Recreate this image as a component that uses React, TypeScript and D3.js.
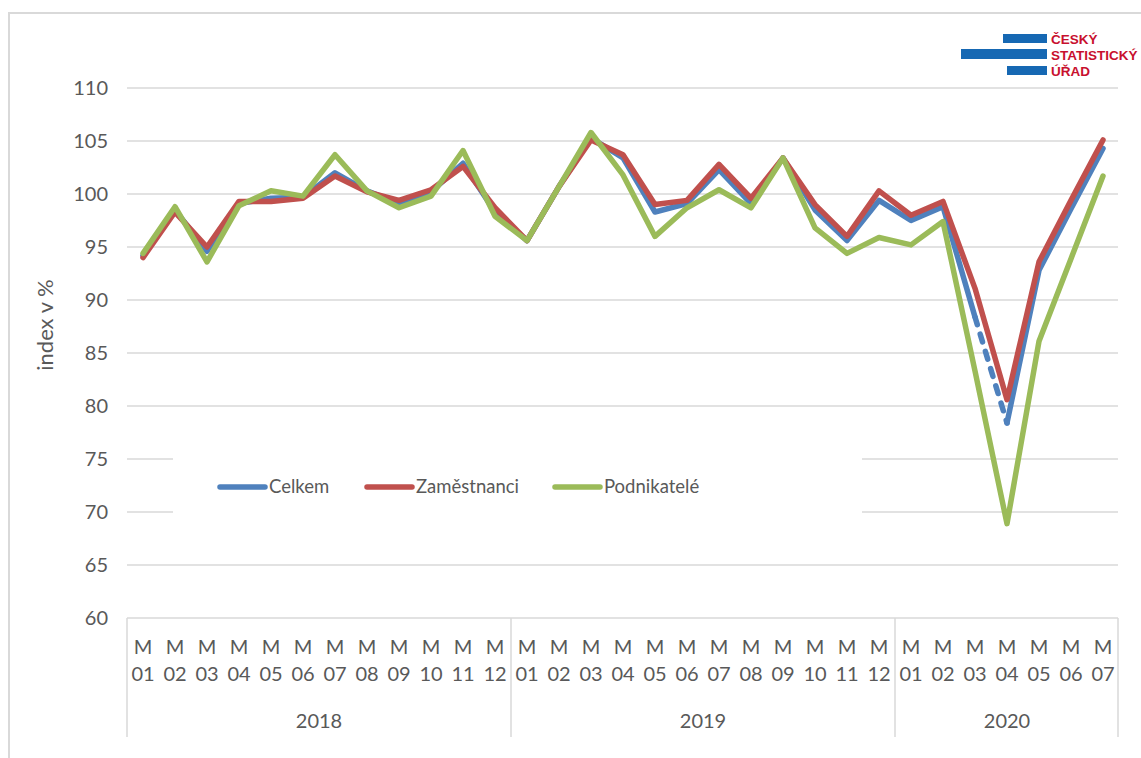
import React from 'react';
import * as d3 from 'd3';

// categories: years with months
const years = ['2018', '2019', '2020'];
const monthsPerYear = [12, 12, 7];
const categories: { year: string; month: string; key: string }[] = [];
years.forEach((y, yi) => {
  for (let m = 1; m <= monthsPerYear[yi]; m++) {
    const mm = String(m).padStart(2, '0');
    categories.push({ year: y, month: mm, key: `${y}-${mm}` });
  }
});

const yTicks = [60, 65, 70, 75, 80, 85, 90, 95, 100, 105, 110];

const celkem = [94.2, 98.5, 94.6, 99.1, 99.6, 99.7, 102.0, 100.3, 99.1, 100.2, 102.9, 98.3,
  95.6, 100.7, 105.3, 103.4, 98.3, 99.1, 102.3, 99.1, 103.4, 98.5, 95.6, 99.4,
  97.5, 98.8, 88.4, 78.4, 92.8, 98.6, 104.3];
const zamestnanci = [94.0, 98.3, 95.0, 99.3, 99.3, 99.6, 101.7, 100.2, 99.4, 100.4, 102.6, 98.7,
  95.6, 100.7, 105.1, 103.7, 99.0, 99.4, 102.8, 99.6, 103.4, 99.0, 96.0, 100.3,
  98.0, 99.3, 91.1, 80.6, 93.6, 99.4, 105.1];
const podnikatele = [94.4, 98.8, 93.6, 98.9, 100.3, 99.8, 103.7, 100.3, 98.7, 99.8, 104.1, 97.9,
  95.6, 100.7, 105.8, 101.8, 96.0, 98.7, 100.4, 98.7, 103.4, 96.8, 94.4, 95.9,
  95.2, 97.4, 83.3, 68.9, 86.1, 93.9, 101.7];

// Celkem segment 2020 M03 -> M04 is dashed (preliminary)
const celkemDashFrom = 26;

const series = [
  { name: 'Celkem', values: celkem, color: '#4f81bd' },
  { name: 'Zaměstnanci', values: zamestnanci, color: '#c0504d' },
  { name: 'Podnikatelé', values: podnikatele, color: '#9bbb59' },
];

const W = 1141;
const H = 758;
const font = 'Lato, "Open Sans", sans-serif';
const textColor = '#595959';
const gridColor = '#d9d9d9';

export default function App() {
  const margin = { left: 127, top: 88, bottom: 618 };
  const bandW = 32;
  const x = d3.scaleBand<string>()
    .domain(categories.map(c => c.key))
    .range([margin.left, margin.left + bandW * categories.length])
    .padding(0);
  const y = d3.scaleLinear().domain([60, 110]).range([margin.bottom, margin.top]);
  const xc = (i: number) => x(categories[i].key)! + x.bandwidth() / 2;

  const line = d3.line<[number, number]>()
    .x(d => xc(d[0]))
    .y(d => y(d[1]));

  const right = x.range()[1];

  // legend box blocks the gridlines behind it
  const legendBox = { x0: 173, x1: 862, y0: 452, y1: 520 };
  const legendItems = [
    { s: series[0], lx: 220 },
    { s: series[1], lx: 367 },
    { s: series[2], lx: 555 },
  ];

  // year group boundaries
  let acc = 0;
  const yearGroups = years.map((yr, i) => {
    const start = acc;
    acc += monthsPerYear[i];
    return { yr, start, end: acc - 1 };
  });

  const pts = (vals: number[], from = 0, to = vals.length - 1) =>
    vals.slice(from, to + 1).map((v, k) => [from + k, v] as [number, number]);

  return (
    <svg width={W} height={H} style={{ position: 'absolute', left: 0, top: 0, background: '#fff' }}
      fontFamily={font}>
      <rect x={9} y={13} width={W + 50} height={H + 50} fill="#fff" stroke={gridColor} strokeWidth={2} />

      {/* gridlines */}
      {yTicks.filter(t => t > 60).map(t => (
        <line key={t} x1={margin.left} x2={right - 1} y1={y(t)} y2={y(t)} stroke={gridColor} strokeWidth={1.5} />
      ))}
      <rect x={legendBox.x0} y={legendBox.y0} width={legendBox.x1 - legendBox.x0}
        height={legendBox.y1 - legendBox.y0} fill="#fff" />

      {/* y tick labels */}
      {yTicks.map(t => (
        <text key={t} x={108} y={y(t)} dy="0.35em" textAnchor="end" fontSize={20} fill={textColor}>{t}</text>
      ))}
      <text transform={`translate(53,${325}) rotate(-90)`} textAnchor="middle" fontSize={22} fill={textColor}>index v %</text>

      {/* category axis */}
      <line x1={margin.left} x2={right - 1} y1={margin.bottom} y2={margin.bottom} stroke={gridColor} strokeWidth={1.5} />
      {[0, ...yearGroups.map(g => g.end + 1)].map((i, k) => {
        const xx = i < categories.length ? x(categories[i].key)! : right - 1;
        return <line key={k} x1={xx} x2={xx} y1={margin.bottom} y2={737} stroke={gridColor} strokeWidth={1.5} />;
      })}
      {categories.map((c, i) => (
        <g key={c.key} fontSize={20} fill={textColor} textAnchor="middle">
          <text x={xc(i)} y={647} dy="0.35em">M</text>
          <text x={xc(i)} y={674} dy="0.35em">{c.month}</text>
        </g>
      ))}
      {yearGroups.map(g => (
        <text key={g.yr} x={(xc(g.start) + xc(g.end)) / 2} y={721} dy="0.35em" textAnchor="middle"
          fontSize={20} fill={textColor}>{g.yr}</text>
      ))}

      {/* series */}
      {series.map((s, si) => {
        const common = { fill: 'none', stroke: s.color, strokeWidth: 5.5, strokeLinejoin: 'round' as const, strokeLinecap: 'round' as const };
        if (si === 0) {
          return (
            <g key={s.name}>
              <path d={line(pts(s.values, 0, celkemDashFrom))!} {...common} />
              <path d={line(pts(s.values, celkemDashFrom, celkemDashFrom + 1))!} {...common} strokeDasharray="8,10" />
              <path d={line(pts(s.values, celkemDashFrom + 1))!} {...common} />
            </g>
          );
        }
        return <path key={s.name} d={line(pts(s.values))!} {...common} />;
      })}

      {/* legend */}
      {legendItems.map(({ s, lx }) => (
        <g key={s.name}>
          <line x1={lx} x2={lx + 45} y1={487} y2={487} stroke={s.color} strokeWidth={5.5} strokeLinecap="round" />
          <text x={lx + 49} y={487} dy="0.35em" fontSize={18.5} fill={textColor}>{s.name}</text>
        </g>
      ))}

      {/* logo */}
      <g>
        <rect x={1003} y={34} width={44} height={9} fill="#1668b3" />
        <rect x={961} y={49} width={86} height={10} fill="#1668b3" />
        <rect x={1007} y={66} width={40} height={9} fill="#1668b3" />
        <g fill="#c8102e" fontFamily='"Liberation Sans", Arial, sans-serif' fontWeight="bold" fontSize={13.5}>
          <text x={1051} y={44}>ČESKÝ</text>
          <text x={1051} y={60}>STATISTICKÝ</text>
          <text x={1051} y={76}>ÚŘAD</text>
        </g>
      </g>
    </svg>
  );
}
